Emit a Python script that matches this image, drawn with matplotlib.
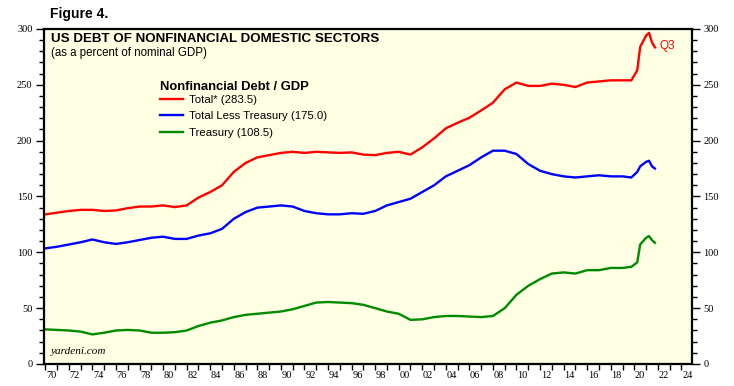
import matplotlib
matplotlib.use("Agg")
import matplotlib.pyplot as plt
from matplotlib.ticker import FixedLocator, MultipleLocator
import numpy as np

# dates as decimal years (annual readings, quarterly around the 2020 spike)
years = [1970, 1971, 1972, 1973, 1974, 1975, 1976, 1977, 1978, 1979,
         1980, 1981, 1982, 1983, 1984, 1985, 1986, 1987, 1988, 1989,
         1990, 1991, 1992, 1993, 1994, 1995, 1996, 1997, 1998, 1999,
         2000, 2001, 2002, 2003, 2004, 2005, 2006, 2007, 2008, 2009,
         2010, 2011, 2012, 2013, 2014, 2015, 2016, 2017, 2018, 2019,
         2019.75, 2020.25, 2020.5, 2021.0, 2021.25, 2021.5, 2021.75]

total = [134, 135.5, 137, 138, 138, 137, 137.5, 139.5, 141, 141,
         142, 140.5, 142, 149, 154, 160, 172, 180, 185, 187,
         189, 190, 189, 190, 189.5, 189, 189.5, 187.5, 187, 189,
         190, 187.5, 194, 202, 211, 216, 220.5, 227, 234, 246,
         252, 249, 249, 251, 250, 248, 252, 253, 254, 254,
         254, 263, 284, 294, 296.5, 288, 283.5]

total_less_treasury = [103.5, 105, 107, 109, 111.5, 109, 107.5, 109, 111, 113,
                       114, 112, 112, 115, 117, 121, 130, 136, 140, 141,
                       142, 141, 137, 135, 134, 134, 135, 134.5, 137, 142,
                       145, 148, 154, 160, 168, 173, 178, 185, 191, 191,
                       188, 179, 173, 170, 168, 167, 168, 169, 168, 168,
                       167, 172, 177, 181, 182, 177, 175]

treasury = [31, 30.5, 30, 29, 26.5, 28, 30, 30.5, 30, 28,
            28, 28.5, 30, 34, 37, 39, 42, 44, 45, 46,
            47, 49, 52, 55, 55.5, 55, 54.5, 53, 50, 47,
            45, 39.5, 40, 42, 43, 43, 42.5, 42, 43, 50,
            62, 70, 76, 81, 82, 81, 84, 84, 86, 86,
            87, 91, 107, 113, 114.5, 111, 108.5]

labels = ["Total* (283.5)", "Total Less Treasury (175.0)", "Treasury (108.5)"]
colors = ["#ff0000", "#0000ff", "#008a00"]

year_labels = [f"{y % 100:02d}" for y in range(1970, 2025, 2)]

fig = plt.figure(figsize=(7.34, 3.86), dpi=100)
ax = fig.add_axes([0.0593, 0.057, 0.8835, 0.868])
ax.set_facecolor("#ffffe4")

for series, lab, col in zip([total, total_less_treasury, treasury], labels, colors):
    ax.plot(years, series, color=col, lw=1.7, label=lab)

ax.set_xlim(1969.85, 2024.9)
ax.set_ylim(0, 300)

# year boundaries get tick marks, labels sit mid-year
ax.xaxis.set_major_locator(FixedLocator(np.arange(1970, 2025)))
ax.xaxis.set_minor_locator(FixedLocator(np.arange(1970, 2025, 2) + 0.5))
ax.xaxis.set_major_formatter(plt.NullFormatter())
ax.xaxis.set_minor_formatter(plt.FixedFormatter(year_labels))
ax.tick_params(axis="x", which="major", direction="out", length=4, width=1)
ax.tick_params(axis="x", which="minor", length=0, pad=5,
               labelsize=7.5, labelfontfamily="Liberation Serif")

ax.yaxis.set_major_locator(MultipleLocator(50))
ax.yaxis.set_minor_locator(MultipleLocator(10))
ax.tick_params(axis="y", which="both", direction="out", left=True, right=True,
               labelleft=True, labelright=True)
ax.tick_params(axis="y", which="major", length=6, width=1, pad=2,
               labelsize=7.5, labelfontfamily="Liberation Serif")
ax.tick_params(axis="y", which="minor", length=3.5, width=1)

for sp in ax.spines.values():
    sp.set_linewidth(1.6)

sans = "Liberation Sans"
fig.text(0.068, 0.963, "Figure 4.", fontsize=10, fontweight="bold", family=sans,
         va="center")
ax.text(0.011, 0.987, "US DEBT OF NONFINANCIAL DOMESTIC SECTORS", transform=ax.transAxes,
        fontsize=9.6, fontweight="bold", family=sans, va="top")
ax.text(0.011, 0.946, "(as a percent of nominal GDP)", transform=ax.transAxes,
        fontsize=8.3, family=sans, va="top")

# legend title drawn on its own so the gap to the entries matches
ax.text(0.1796, 0.828, "Nonfinancial Debt / GDP", transform=ax.transAxes,
        fontsize=9.4, fontweight="bold", family=sans, va="center")
leg = ax.legend(loc="upper left", bbox_to_anchor=(0.18, 0.804), frameon=False,
                prop={"family": sans, "size": 8.2},
                handlelength=2.0, handletextpad=0.55, labelspacing=0.58,
                borderaxespad=0, borderpad=0)

ax.text(0.012, 0.025, "yardeni.com", transform=ax.transAxes, fontsize=8,
        style="italic", family="Liberation Serif", va="bottom")
ax.annotate("Q3", xy=(years[-1], total[-1]), xytext=(3, 1), textcoords="offset points",
            color="#ff0000", fontsize=8.5, family=sans, va="center")

fig.savefig("out.png", dpi=100)
